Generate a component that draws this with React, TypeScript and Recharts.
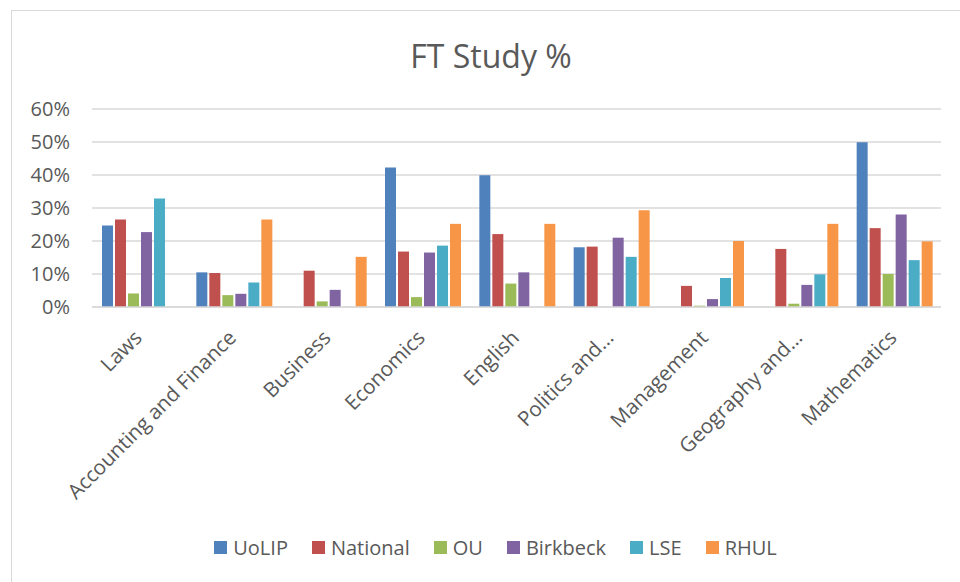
import { BarChart, Bar, XAxis, YAxis, CartesianGrid, Legend } from 'recharts'

const categories = [
  'Laws',
  'Accounting and Finance',
  'Business',
  'Economics',
  'English',
  'Politics and…',
  'Management',
  'Geography and…',
  'Mathematics',
]

// FT study share (%) per institution, one value per category; null = no bar
const uolip = [24.7, 10.5, null, 42.3, 39.9, 18.1, null, null, 49.9]
const national = [26.5, 10.3, 11.0, 16.8, 22.1, 18.3, 6.4, 17.6, 23.9]
const ou = [4.1, 3.6, 1.7, 3.0, 7.1, null, 0.4, 1.0, 10.0]
const birkbeck = [22.7, 4.0, 5.2, 16.5, 10.5, 21.0, 2.4, 6.7, 28.0]
const lse = [32.9, 7.4, null, 18.6, null, 15.2, 8.8, 9.9, 14.2]
const rhul = [null, 26.5, 15.2, 25.2, 25.2, 29.3, 20.0, 25.2, 19.9]

const yTicks = [0, 10, 20, 30, 40, 50, 60]

const series = [
  { key: 'UoLIP', color: '#4F81BD', values: uolip },
  { key: 'National', color: '#C0504D', values: national },
  { key: 'OU', color: '#9BBB59', values: ou },
  { key: 'Birkbeck', color: '#8064A2', values: birkbeck },
  { key: 'LSE', color: '#4BACC6', values: lse },
  { key: 'RHUL', color: '#F79646', values: rhul },
]

const rows = categories.map((category, i) => {
  const row: Record<string, any> = { category }
  series.forEach((s) => {
    row[s.key] = s.values[i]
  })
  return row
})

const FONT = '"Open Sans", sans-serif'
const TEXT = '#595959'
const GRID = '#D9D9D9'

function CategoryTick({ x, y, payload }: any) {
  const ax = x + 4
  const ay = y + 32
  return (
    <text
      x={ax}
      y={ay}
      transform={`rotate(-45, ${ax}, ${ay})`}
      textAnchor="end"
      fontSize={20.6}
      fontFamily={FONT}
      fill={TEXT}
    >
      {payload.value}
    </text>
  )
}

function LegendContent() {
  return (
    <div
      style={{
        display: 'flex',
        justifyContent: 'center',
        alignItems: 'center',
        gap: 24,
        height: 30,
        fontFamily: FONT,
        fontSize: 20,
        color: TEXT,
        paddingLeft: 50,
      }}
    >
      {series.map((s) => (
        <div key={s.key} style={{ display: 'flex', alignItems: 'center', gap: 6 }}>
          <span style={{ width: 13, height: 13, background: s.color, display: 'inline-block' }} />
          {s.key}
        </div>
      ))}
    </div>
  )
}

export default function App() {
  return (
    <div style={{ position: 'fixed', left: 0, top: 0, width: 960, height: 582, background: '#fff', overflow: 'hidden' }}>
      <div
        style={{
          position: 'absolute',
          left: 11,
          top: 10,
          width: 960,
          height: 600,
          border: `1.5px solid ${GRID}`,
          boxSizing: 'border-box',
        }}
      />
      <div
        style={{
          position: 'absolute',
          left: 0,
          top: 35,
          width: 982,
          textAlign: 'center',
          fontFamily: FONT,
          fontSize: 32,
          lineHeight: '42px',
          color: TEXT,
        }}
      >
        FT Study %
      </div>
      <div style={{ position: 'absolute', left: 0, top: 0 }}>
        <BarChart
          width={960}
          height={582}
          data={rows}
          margin={{ top: 109, right: 19, left: 0, bottom: 20 }}
          barCategoryGap={10}
          barGap={2}
        >
          <CartesianGrid vertical={false} stroke={GRID} strokeWidth={1.5} />
          <XAxis
            dataKey="category"
            interval={0}
            height={225}
            tickLine={false}
            tickSize={0}
            tickMargin={0}
            axisLine={{ stroke: GRID, strokeWidth: 1.5 }}
            tick={<CategoryTick />}
          />
          <YAxis
            width={92}
            domain={[0, 60]}
            ticks={yTicks}
            tickFormatter={(v: number) => `${v}%`}
            axisLine={false}
            tickLine={false}
            tickSize={0}
            tickMargin={22}
            tick={{ fontSize: 20, fontFamily: FONT, fill: TEXT }}
          />
          <Legend verticalAlign="bottom" height={30} content={<LegendContent />} />
          {series.map((s) => (
            <Bar key={s.key} dataKey={s.key} name={s.key} fill={s.color} isAnimationActive={false} />
          ))}
        </BarChart>
      </div>
    </div>
  )
}
